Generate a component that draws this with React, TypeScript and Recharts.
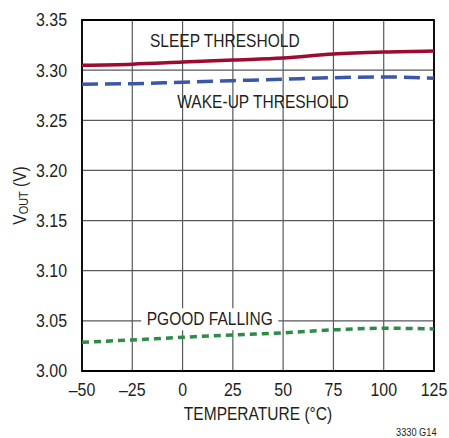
import { LineChart, Line, XAxis, YAxis, CartesianGrid, ReferenceArea, ReferenceDot } from 'recharts';

const temps = [-50, -25, 0, 25, 50, 75, 100, 125];
const sleep = [3.305, 3.306, 3.308, 3.310, 3.312, 3.316, 3.318, 3.319];
const wakeUp = [3.286, 3.2865, 3.288, 3.2895, 3.291, 3.2925, 3.2932, 3.292];
const pgood = [3.0286, 3.031, 3.0336, 3.036, 3.038, 3.041, 3.0426, 3.042];

const xTicks = [-50, -25, 0, 25, 50, 75, 100, 125];
const yTicks = [3.0, 3.05, 3.1, 3.15, 3.2, 3.25, 3.3, 3.35];

const data = temps.map((t, i) => ({ t, sleep: sleep[i], wake: wakeUp[i], pgood: pgood[i] }));

const FONT = "'Liberation Sans', Arial, sans-serif";
const TXT = '#231f20';
const SX = 0.84; // condensed look

function NarrowText({ x, y, anchor, size, children, rotate }: any) {
  const tf = rotate ? `translate(${x},${y}) rotate(-90) scale(${SX},1)` : `translate(${x},${y}) scale(${SX},1)`;
  return (
    <text transform={tf} textAnchor={anchor} dominantBaseline="central" fontFamily={FONT} fontSize={size} fill={TXT}>
      {children}
    </text>
  );
}

function XTick(props: any) {
  const { x, y, payload } = props;
  return <NarrowText x={x} y={y + 13} anchor="middle" size={19}>{String(payload.value).replace('-', '\u2013')}</NarrowText>;
}

function YTick(props: any) {
  const { x, y, payload } = props;
  return <NarrowText x={x} y={y} anchor="end" size={19}>{Number(payload.value).toFixed(2)}</NarrowText>;
}

function curveLabel(text: string, boxW: number) {
  return (props: any) => {
    const { viewBox } = props;
    const cx = viewBox.x + (viewBox.width || 0) / 2;
    const cy = viewBox.y + (viewBox.height || 0) / 2;
    return (
      <g>
        {boxW > 0 && <rect x={cx - boxW / 2} y={cy - 11} width={boxW} height={22} fill="#fff" />}
        <NarrowText x={cx} y={cy} anchor="middle" size={18.5}>{text}</NarrowText>
      </g>
    );
  };
}

function YLabel(props: any) {
  const { viewBox } = props;
  const y = viewBox.y + viewBox.height / 2;
  return (
    <NarrowText x={20} y={y} anchor="middle" size={18.5} rotate>
      V<tspan fontSize={13} dy={4}>OUT</tspan><tspan dy={-4}> (V)</tspan>
    </NarrowText>
  );
}

function XLabel(props: any) {
  const { viewBox } = props;
  return <NarrowText x={viewBox.x + viewBox.width / 2} y={414} anchor="middle" size={18.5}>TEMPERATURE (°C)</NarrowText>;
}

export default function App() {
  return (
    <div style={{ position: 'absolute', left: 0, top: 0, width: 449, height: 438, background: '#fff' }}>
      <LineChart width={449} height={438} data={data} margin={{ top: 20, right: 15, left: 0, bottom: 0 }}>
        <CartesianGrid stroke="#58595b" strokeWidth={1.2} horizontal vertical />
        <XAxis
          dataKey="t"
          type="number"
          domain={[-50, 125]}
          ticks={xTicks}
          height={67}
          tickLine={false}
          axisLine={false}
          tickMargin={0}
          tick={<XTick />}
          label={<XLabel />}
        />
        <YAxis
          type="number"
          domain={[3.0, 3.35]}
          ticks={yTicks}
          width={82}
          tickLine={false}
          axisLine={false}
          tickMargin={9}
          tick={<YTick />}
          label={<YLabel />}
        />
        <ReferenceArea x1={-50} x2={125} y1={3.0} y2={3.35} fill="none" stroke="#000" strokeWidth={1.8} ifOverflow="visible" />
        <ReferenceDot x={21} y={3.3289} r={0} fill="none" stroke="none" label={curveLabel('SLEEP THRESHOLD', 0)} />
        <ReferenceDot x={40} y={3.2683} r={0} fill="none" stroke="none" label={curveLabel('WAKE-UP THRESHOLD', 0)} />
        <ReferenceDot x={13.5} y={3.0516} r={0} fill="none" stroke="none" label={curveLabel('PGOOD FALLING', 137)} />
        <Line dataKey="sleep" type="monotone" stroke="#9d0b31" strokeWidth={3.5} dot={false} isAnimationActive={false} />
        <Line dataKey="wake" type="monotone" stroke="#3b57a7" strokeWidth={3.5} strokeDasharray="16 7" dot={false} isAnimationActive={false} />
        <Line dataKey="pgood" type="monotone" stroke="#2c8b47" strokeWidth={3.5} strokeDasharray="7 5" dot={false} isAnimationActive={false} />
      </LineChart>
      <div style={{ position: 'absolute', left: 396, top: 426, fontFamily: FONT, fontSize: 11, color: TXT, transform: 'scaleX(0.84)', transformOrigin: 'left top' }}>3330 G14</div>
    </div>
  );
}
